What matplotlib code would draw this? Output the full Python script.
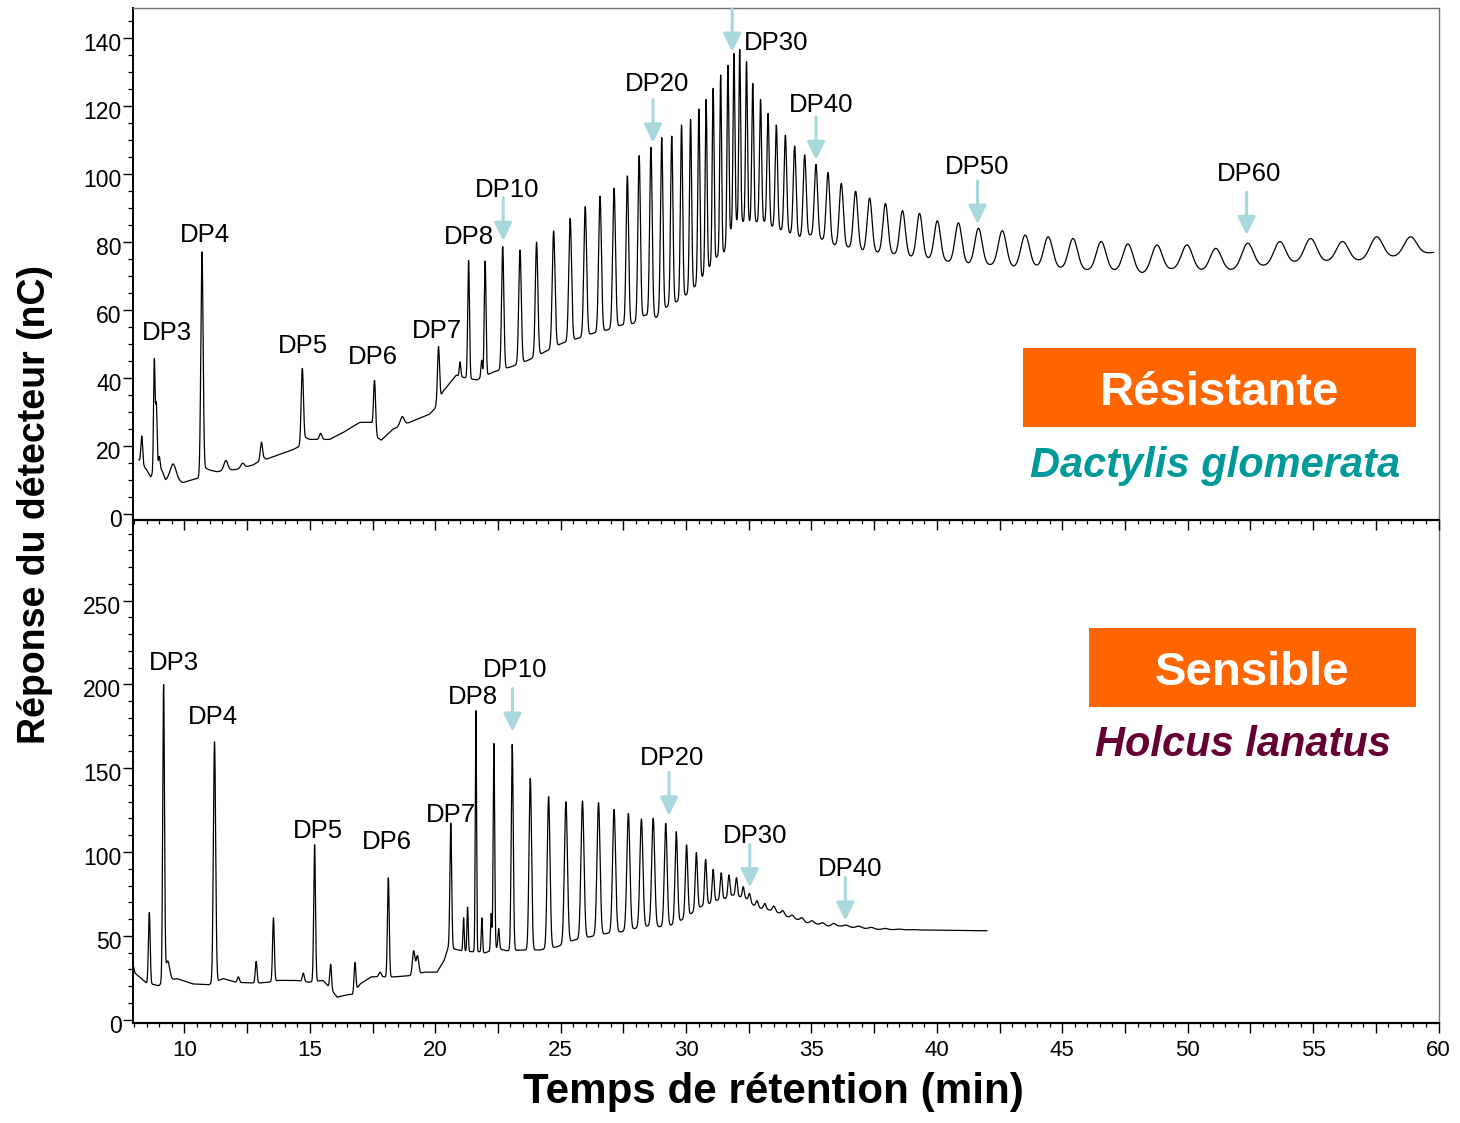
import numpy as np
import matplotlib
matplotlib.use("Agg")
import matplotlib.pyplot as plt
from matplotlib.patches import Rectangle
from matplotlib.transforms import ScaledTranslation
from matplotlib.ticker import MultipleLocator, FuncFormatter

plt.rcParams['font.family'] = ['Liberation Sans', 'DejaVu Sans']

# ======================= DATA =======================
# ---- Top panel : Dactylis glomerata (résistante) ----
# isolated / minor peaks: retention time (min), apex (nC), width sigma (min)
top_minor_t    = [8.30, 8.80, 8.88, 9.00, 9.55, 10.70, 11.65, 12.32, 13.07, 14.70, 15.43, 17.58, 18.68, 20.13, 20.99, 21.85]
top_minor_apex = [23.0, 45.8, 33.0, 17.0, 14.8, 77.2, 15.8, 15.0, 21.2, 42.9, 23.8, 39.4, 28.7, 49.3, 44.8, 45.3]
top_minor_w    = [0.035, 0.03, 0.03, 0.03, 0.12, 0.045, 0.08, 0.07, 0.045, 0.045, 0.05, 0.04, 0.08, 0.04, 0.03, 0.03]
# baseline points of the early part of the trace
top_base_t = [8.18, 8.50, 8.65, 8.95, 9.10, 9.25, 9.55, 9.93, 10.49, 10.62, 10.85, 11.01, 11.28, 12.08, 12.74,
              13.20, 13.27, 14.33, 14.60, 14.85, 14.99, 15.79, 16.32, 16.98, 17.45, 17.70, 17.85, 18.31, 18.97,
              19.77, 19.98, 20.30, 20.83, 21.20]
top_base_v = [16.0, 13.0, 11.0, 14.0, 13.0, 10.0, 10.5, 9.3, 10.5, 10.8, 13.5, 13.0, 12.5, 13.2, 14.5,
              16.5, 16.2, 19.0, 20.0, 22.5, 22.0, 22.0, 24.0, 27.0, 27.0, 22.5, 21.8, 25.0, 27.0,
              29.4, 31.0, 36.0, 40.9, 40.1]
# homologous series DP8 ... DP65
top_dp_t = [21.33, 21.99, 22.69, 23.38, 24.04, 24.72, 25.38, 25.98, 26.57, 27.13, 27.66, 28.13, 28.60, 29.03,
            29.43, 29.82, 30.18, 30.51, 30.80, 31.08, 31.38, 31.67, 31.91, 32.14, 32.41, 32.66, 32.97, 33.27,
            33.60, 33.96, 34.33, 34.73, 35.18, 35.66, 36.19, 36.76, 37.32, 37.95, 38.63, 39.31, 40.02, 40.86,
            41.66, 42.61, 43.52, 44.44, 45.43, 46.55, 47.62, 48.77, 49.97, 51.12, 52.39, 53.67, 54.90, 56.17,
            57.53, 58.88]
top_dp_apex = [74.6, 74.5, 78.7, 77.7, 80.0, 83.3, 87.0, 90.5, 93.6, 95.9, 99.5, 105.5, 107.9, 110.8,
               111.2, 114.5, 116.1, 119.2, 122.1, 125.3, 129.2, 132.1, 135.6, 136.7, 133.1, 126.7, 122.0, 117.9,
               114.5, 111.5, 108.3, 105.7, 102.9, 100.5, 97.3, 95.0, 93.0, 91.4, 89.3, 88.5, 86.3, 85.7,
               84.1, 83.4, 82.1, 81.6, 81.1, 80.2, 79.5, 79.2, 79.2, 78.2, 79.7, 80.2, 81.1, 80.2,
               81.6, 81.6]
top_dp_w = [0.035, 0.035, 0.045, 0.05, 0.05, 0.055, 0.055, 0.055, 0.055, 0.055, 0.05, 0.05, 0.05, 0.048,
            0.046, 0.044, 0.042, 0.04, 0.038, 0.037, 0.036, 0.036, 0.036, 0.036, 0.037, 0.039, 0.042, 0.045,
            0.048, 0.052, 0.056, 0.06, 0.066, 0.072, 0.08, 0.088, 0.095, 0.10, 0.11, 0.115, 0.125, 0.135,
            0.145, 0.16, 0.17, 0.175, 0.18, 0.19, 0.20, 0.21, 0.22, 0.22, 0.23, 0.23, 0.24, 0.24,
            0.25, 0.25]
# valley level between consecutive DP peaks
top_dp_valley = [39.5, 41.9, 43.4, 45.3, 47.8, 50.3, 51.7, 53.2, 54.2, 55.6, 56.1, 58.6, 57.9, 61.0,
                 62.5, 64.5, 66.9, 69.9, 72.8, 75.7, 77.2, 83.6, 86.0, 86.0, 86.0, 86.0, 86.0, 84.6,
                 83.6, 82.6, 81.6, 82.1, 80.8, 79.2, 78.5, 77.5, 77.0, 76.5, 75.7, 75.2, 74.3, 73.6,
                 73.3, 72.6, 72.8, 72.3, 71.8, 71.6, 70.8, 72.0, 71.6, 71.8, 73.0, 74.0, 74.3, 74.6,
                 75.7]
top_end = (59.80, 77.0)

# ---- Bottom panel : Holcus lanatus (sensible) ----
bot_minor_t    = [8.60, 9.17, 9.33, 11.20, 12.15, 12.86, 13.55, 14.74, 15.19, 15.83, 16.80, 17.80, 18.13,
                  19.14, 19.29, 20.62, 21.13, 21.29, 21.62, 21.86, 22.23, 22.34, 22.53, 38.50, 39.05, 39.60]
bot_minor_apex = [63.9, 199.8, 35.0, 165.7, 25.5, 34.7, 60.7, 27.7, 104.4, 33.0, 34.1, 28.3, 84.6,
                  41.1, 38.3, 117.2, 60.7, 67.1, 184.3, 60.7, 63.3, 164.7, 54.3, 54.0, 53.7, 53.4]
bot_minor_w    = [0.035, 0.035, 0.08, 0.045, 0.04, 0.035, 0.035, 0.04, 0.035, 0.035, 0.035, 0.05, 0.035,
                  0.05, 0.05, 0.035, 0.025, 0.025, 0.025, 0.025, 0.025, 0.03, 0.03, 0.10, 0.10, 0.10]
bot_base_t = [7.95, 8.03, 8.48, 8.98, 9.10, 9.69, 10.33, 10.97, 11.54, 12.04, 12.61, 13.03, 13.35, 13.74,
              14.45, 14.95, 15.52, 15.66, 15.95, 16.09, 16.51, 16.70, 17.01, 17.44, 17.93, 18.36, 19.00,
              19.57, 20.07, 20.35, 20.52, 20.82, 21.06, 21.49, 21.77, 21.99, 22.45, 22.84]
bot_base_v = [33.0, 27.7, 21.9, 20.2, 22.0, 24.5, 21.3, 20.8, 24.5, 22.3, 21.9, 21.9, 22.3, 23.4,
              23.4, 22.3, 23.4, 21.3, 16.0, 13.4, 14.9, 15.0, 21.3, 25.5, 25.5, 25.5, 26.2,
              28.3, 28.3, 35.1, 43.0, 41.9, 41.1, 40.5, 40.5, 39.8, 42.6, 41.1]
bot_dp_t = [23.07, 23.79, 24.52, 25.21, 25.87, 26.51, 27.13, 27.70, 28.22, 28.69, 29.19, 29.61, 30.02,
            30.41, 30.78, 31.08, 31.40, 31.71, 32.01, 32.28, 32.53, 32.83, 33.14, 33.50, 33.86, 34.23,
            34.62, 35.02, 35.45, 35.89, 36.38, 36.88, 37.39, 37.94]
bot_dp_apex = [164.2, 143.9, 133.0, 130.0, 130.4, 129.4, 125.4, 123.0, 119.7, 120.1, 117.1, 112.1, 104.2,
               99.6, 95.6, 89.6, 87.6, 86.3, 84.7, 79.3, 75.3, 70.9, 69.3, 67.8, 65.0, 62.4,
               60.8, 59.0, 57.8, 57.4, 56.4, 55.8, 55.0, 54.4]
bot_dp_w = [0.04, 0.05, 0.055, 0.06, 0.06, 0.06, 0.06, 0.06, 0.06, 0.06, 0.055, 0.05, 0.048,
            0.045, 0.042, 0.04, 0.04, 0.04, 0.04, 0.04, 0.04, 0.045, 0.05, 0.055, 0.06, 0.065,
            0.07, 0.075, 0.08, 0.085, 0.09, 0.095, 0.10, 0.10]
bot_dp_valley = [41.5, 41.5, 43.5, 47.5, 49.5, 51.4, 52.4, 54.4, 55.8, 55.4, 56.4, 59.4, 63.4,
                 67.4, 69.3, 71.3, 72.3, 74.3, 73.3, 72.3, 68.4, 66.4, 65.4, 63.8, 61.4, 59.8,
                 57.8, 57.0, 55.8, 55.8, 55.0, 54.4, 53.8]
bot_end = (41.99, 53.0)

# ---- annotations ----
top_lab_txt = ['DP3', 'DP4', 'DP5', 'DP6', 'DP7', 'DP8', 'DP10', 'DP20', 'DP30', 'DP40', 'DP50', 'DP60']
top_lab_t   = [9.29, 10.82, 14.73, 17.51, 20.08, 21.35, 22.88, 28.84, 33.60, 35.38, 41.62, 52.43]
top_lab_v   = [51.3, 80.1, 47.3, 44.1, 51.8, 79.5, 93.4, 124.6, 136.5, 118.2, 100.1, 98.1]
top_arrow_t = [22.71, 28.68, 31.84, 35.18, 41.62, 52.35]
top_arrow_v = [80.4, 109.3, 136.0, 104.2, 85.4, 82.1]

bot_lab_txt = ['DP3', 'DP4', 'DP5', 'DP6', 'DP7', 'DP8', 'DP10', 'DP20', 'DP30', 'DP40']
bot_lab_t   = [9.58, 11.14, 15.31, 18.08, 20.64, 21.49, 23.19, 29.43, 32.77, 36.55]
bot_lab_v   = [208.6, 176.6, 108.4, 102.0, 118.0, 188.4, 204.3, 151.7, 105.6, 85.7]
bot_arrow_t = [23.08, 29.32, 32.54, 36.35]
bot_arrow_v = [171.8, 121.7, 78.9, 59.0]

# ======================= TRACE BUILDING =======================
def build_trace(t0, t1, minor_t, minor_a, minor_w, base_t, base_v,
                dp_t, dp_a, dp_w, dp_valley, end):
    dp_t = np.asarray(dp_t, float)
    mids = (dp_t[:-1] + dp_t[1:]) / 2.0
    bt = np.concatenate([base_t, mids, [end[0]]])
    bv = np.concatenate([base_v, dp_valley, [end[1]]])
    order = np.argsort(bt)
    bt, bv = bt[order], bv[order]
    pk_t = np.concatenate([minor_t, dp_t])
    pk_a = np.concatenate([minor_a, dp_a])
    pk_w = np.concatenate([minor_w, dp_w])
    b_at = np.interp(pk_t, bt, bv)
    M = np.exp(-0.5 * ((pk_t[:, None] - pk_t[None, :]) / pk_w[None, :]) ** 2)
    h = np.linalg.solve(M, pk_a - b_at)
    t = np.linspace(t0, t1, 14000)
    y = np.interp(t, bt, bv) + np.exp(-0.5 * ((t[:, None] - pk_t[None, :]) / pk_w[None, :]) ** 2) @ h
    return t, y

t_top, y_top = build_trace(8.18, top_end[0], top_minor_t, top_minor_apex, top_minor_w,
                           top_base_t, top_base_v, top_dp_t, top_dp_apex, top_dp_w,
                           top_dp_valley, top_end)
t_bot, y_bot = build_trace(7.95, bot_end[0], bot_minor_t, bot_minor_apex, bot_minor_w,
                           bot_base_t, bot_base_v, bot_dp_t, bot_dp_apex, bot_dp_w,
                           bot_dp_valley, bot_end)

# ======================= FIGURE =======================
W_PX, H_PX = 1460, 1123
fig = plt.figure(figsize=(W_PX / 100, H_PX / 100), dpi=100)

def fx(px):
    return px / W_PX

def fy(py):
    return 1 - py / H_PX

L, R = 132.5, 1438.5
ax2 = fig.add_axes([fx(L), fy(1022.7), fx(R - L), fy(520) - fy(1022.7)])
ax1 = fig.add_axes([fx(L), fy(520), fx(R - L), fy(8) - fy(520)])
ax1.patch.set_visible(False)
ax1.set_zorder(3)

ARROW = '#A8D8DC'
GRAY = '#707070'

def style(ax, ylim, yticks, ymin, show_x):
    ax.set_xlim(7.93, 60.0)
    ax.set_ylim(*ylim)
    ax.xaxis.set_major_locator(MultipleLocator(2.5))
    ax.xaxis.set_minor_locator(MultipleLocator(0.5))
    ax.xaxis.set_major_formatter(FuncFormatter(
        lambda v, p: f"{v:.0f}" if abs(v / 5 - round(v / 5)) < 1e-6 else ""))
    ax.set_yticks(yticks)
    ax.yaxis.set_minor_locator(MultipleLocator(ymin))
    ax.tick_params(axis='x', which='major', direction='out', length=7.2, width=1.0,
                   labelsize=16, pad=5.5, labelbottom=show_x)
    ax.tick_params(axis='x', which='minor', direction='out', length=2.8, width=0.9)
    ax.tick_params(axis='y', which='major', direction='out', length=7.0, width=1.0,
                   labelsize=16.5, pad=1.0)
    ax.tick_params(axis='y', which='minor', direction='out', length=3.5, width=0.9)
    ax.spines['left'].set_linewidth(1.4)
    ax.spines['bottom'].set_linewidth(1.6)
    ax.spines['right'].set_color(GRAY)
    ax.spines['right'].set_linewidth(1.0)
    ax.spines['top'].set_color(GRAY)
    ax.spines['top'].set_linewidth(1.0)

style(ax1, (-1.7, 148.9), np.arange(0, 141, 20), 5, False)
style(ax2, (-1.85, 298.1), np.arange(0, 251, 50), 10, True)
ax2.spines['top'].set_visible(False)

for ax in (ax1, ax2):
    off = ScaledTranslation(0, -4 / 100, fig.dpi_scale_trans)
    for lab in ax.get_yticklabels():
        lab.set_transform(lab.get_transform() + off)

ax1.plot(t_top, y_top, color='black', lw=0.9)
ax2.plot(t_bot, y_bot, color='black', lw=0.9)

def annotate(ax, txt, tt, tv, at, av):
    for s, x, y in zip(txt, tt, tv):
        ax.text(x, y, s, ha='center', va='baseline', fontsize=18.5, color='black')
    for x, y in zip(at, av):
        ax.annotate('', xy=(x, y), xytext=(0, 31), textcoords='offset points',
                    arrowprops=dict(arrowstyle='-|>,head_length=0.55,head_width=0.27',
                                    color=ARROW, lw=2.2, shrinkA=0, shrinkB=0,
                                    mutation_scale=20),
                    annotation_clip=False)

annotate(ax1, top_lab_txt, top_lab_t, top_lab_v, top_arrow_t, top_arrow_v)
annotate(ax2, bot_lab_txt, bot_lab_t, bot_lab_v, bot_arrow_t, bot_arrow_v)

# orange boxes and species names
ORANGE = '#FF6600'
fig.patches.append(Rectangle((fx(1022.7), fy(426.7)), fx(1416 - 1022.7), fy(348.3) - fy(426.7),
                             transform=fig.transFigure, facecolor=ORANGE, edgecolor='none', zorder=5))
fig.patches.append(Rectangle((fx(1089), fy(706.7)), fx(1416 - 1089), fy(628.3) - fy(706.7),
                             transform=fig.transFigure, facecolor=ORANGE, edgecolor='none', zorder=5))
fig.text(fx(1219.4), fy(405), 'Résistante', ha='center', va='baseline', fontsize=34,
         fontweight='bold', color='white', zorder=6)
fig.text(fx(1252.3), fy(685), 'Sensible', ha='center', va='baseline', fontsize=34,
         fontweight='bold', color='white', zorder=6)
fig.text(fx(1215), fy(477.3), 'Dactylis glomerata', ha='center', va='baseline', fontsize=30,
         fontweight='bold', fontstyle='italic', color='#009999', zorder=6)
fig.text(fx(1243), fy(756.5), 'Holcus lanatus', ha='center', va='baseline', fontsize=30,
         fontweight='bold', fontstyle='italic', color='#660033', zorder=6)

# axis titles
fig.text(fx(35), fy(504), 'Réponse du détecteur (nC)', rotation=90, ha='center', va='center',
         fontsize=27, fontweight='bold')
fig.text(fx(773.5), fy(1092), 'Temps de rétention (min)', ha='center', va='center',
         fontsize=30.3, fontweight='bold')

fig.savefig('out.png', dpi=100)
